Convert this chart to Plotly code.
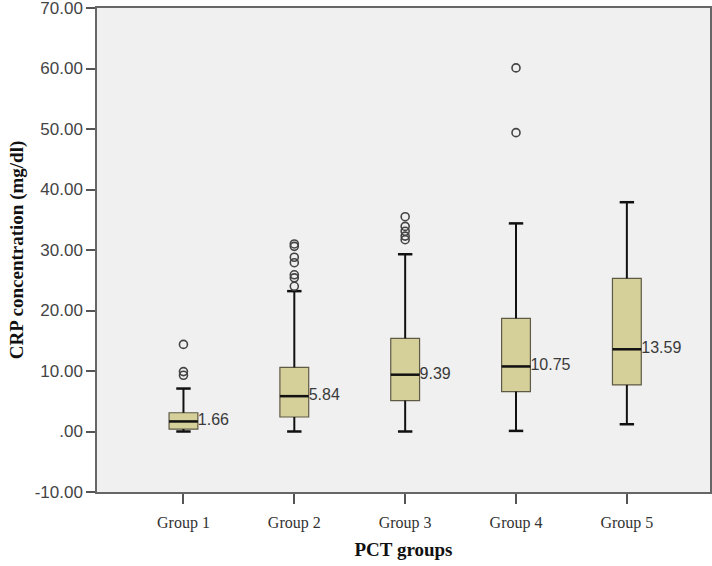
import plotly.graph_objects as go

# ---- data ----
groups = ["Group 1", "Group 2", "Group 3", "Group 4", "Group 5"]
positions = [0, 1, 2, 3, 4]
q1 = [0.4, 2.4, 5.1, 6.6, 7.7]
median = [1.66, 5.84, 9.39, 10.75, 13.59]
q3 = [3.1, 10.6, 15.4, 18.7, 25.3]
lower_whisker = [0.0, 0.0, 0.0, 0.1, 1.2]
upper_whisker = [7.1, 23.2, 29.3, 34.4, 37.9]
outliers = [
    [14.4, 9.9, 9.3],
    [31.0, 30.6, 28.8, 27.9, 25.9, 25.4, 24.0],
    [35.5, 33.9, 33.1, 32.3, 31.7],
    [60.1, 49.4],
    [],
]
y_tickvals = [-10, 0, 10, 20, 30, 40, 50, 60, 70]
y_ticktext = ["-10.00", ".00", "10.00", "20.00", "30.00", "40.00", "50.00", "60.00", "70.00"]

BOX_HALF = 0.13
CAP_HALF = 0.065

fig = go.Figure()

# whiskers
wx, wy = [], []
for p, a, b, lo, hi in zip(positions, q1, q3, lower_whisker, upper_whisker):
    wx += [p, p, None, p, p, None]
    wy += [b, hi, None, a, lo, None]
fig.add_trace(go.Scatter(x=wx, y=wy, mode="lines",
                         line=dict(color="#111111", width=2), hoverinfo="skip"))

# caps
cx, cy = [], []
for p, lo, hi in zip(positions, lower_whisker, upper_whisker):
    cx += [p - CAP_HALF, p + CAP_HALF, None, p - CAP_HALF, p + CAP_HALF, None]
    cy += [hi, hi, None, lo, lo, None]
fig.add_trace(go.Scatter(x=cx, y=cy, mode="lines",
                         line=dict(color="#111111", width=2.5), hoverinfo="skip"))

# boxes
fig.add_trace(go.Box(
    x=positions, q1=q1, median=median, q3=q3,
    lowerfence=q1, upperfence=q3,
    width=2 * BOX_HALF,
    fillcolor="#d5cf9a",
    line=dict(color="#5e5a45", width=1.2),
    boxpoints=False, hoverinfo="skip",
))

# medians
mx, my = [], []
for p, m in zip(positions, median):
    mx += [p - BOX_HALF, p + BOX_HALF, None]
    my += [m, m, None]
fig.add_trace(go.Scatter(x=mx, y=my, mode="lines",
                         line=dict(color="#111111", width=2.5), hoverinfo="skip"))

# outliers
ox, oy = [], []
for p, vals in zip(positions, outliers):
    for v in vals:
        ox.append(p)
        oy.append(v)
fig.add_trace(go.Scatter(x=ox, y=oy, mode="markers",
                         marker=dict(symbol="circle-open", size=8,
                                     color="#444444", line=dict(width=1.6)),
                         hoverinfo="skip"))

# median labels
fig.add_trace(go.Scatter(
    x=[p + BOX_HALF for p in positions], y=median, mode="text",
    text=[f"{m:.2f}" for m in median], textposition="middle right",
    textfont=dict(family="Liberation Sans, Arial, sans-serif", size=16, color="#3a3a3a"),
    hoverinfo="skip"))

fig.update_layout(
    width=712, height=566,
    margin=dict(l=97, r=2, t=8, b=74),
    paper_bgcolor="white",
    plot_bgcolor="#f0f0f0",
    showlegend=False,
)
fig.update_xaxes(
    range=[-0.78, 4.75], automargin=False,
    tickvals=positions, ticktext=groups,
    ticks="outside", ticklen=10, tickwidth=1.5, tickcolor="#555555",
    ticklabelstandoff=5,
    tickfont=dict(family="Liberation Serif, Times New Roman, serif", size=16, color="#333333"),
    showline=True, linecolor="#666666", linewidth=1.5, mirror=True,
    showgrid=False, zeroline=False,
    title=dict(text="<b>PCT groups</b>", standoff=12,
               font=dict(family="Liberation Serif, Times New Roman, serif", size=19, color="#111111")),
)
fig.update_yaxes(
    range=[-10, 70], automargin=False, ticklabeloverflow="allow",
    tickvals=y_tickvals, ticktext=y_ticktext,
    ticks="outside", ticklen=9, tickwidth=1.5, tickcolor="#555555",
    tickfont=dict(family="Liberation Sans, Arial, sans-serif", size=17, color="#444444"),
    showline=True, linecolor="#666666", linewidth=1.5, mirror=True,
    showgrid=False, zeroline=False,
    title=dict(text="<b>CRP concentration (mg/dl)</b>", standoff=6,
               font=dict(family="Liberation Serif, Times New Roman, serif", size=19, color="#111111")),
)

fig.write_html("out.html", config={"displayModeBar": False},
               post_script="document.body.style.margin='0';document.body.style.overflow='hidden';")
